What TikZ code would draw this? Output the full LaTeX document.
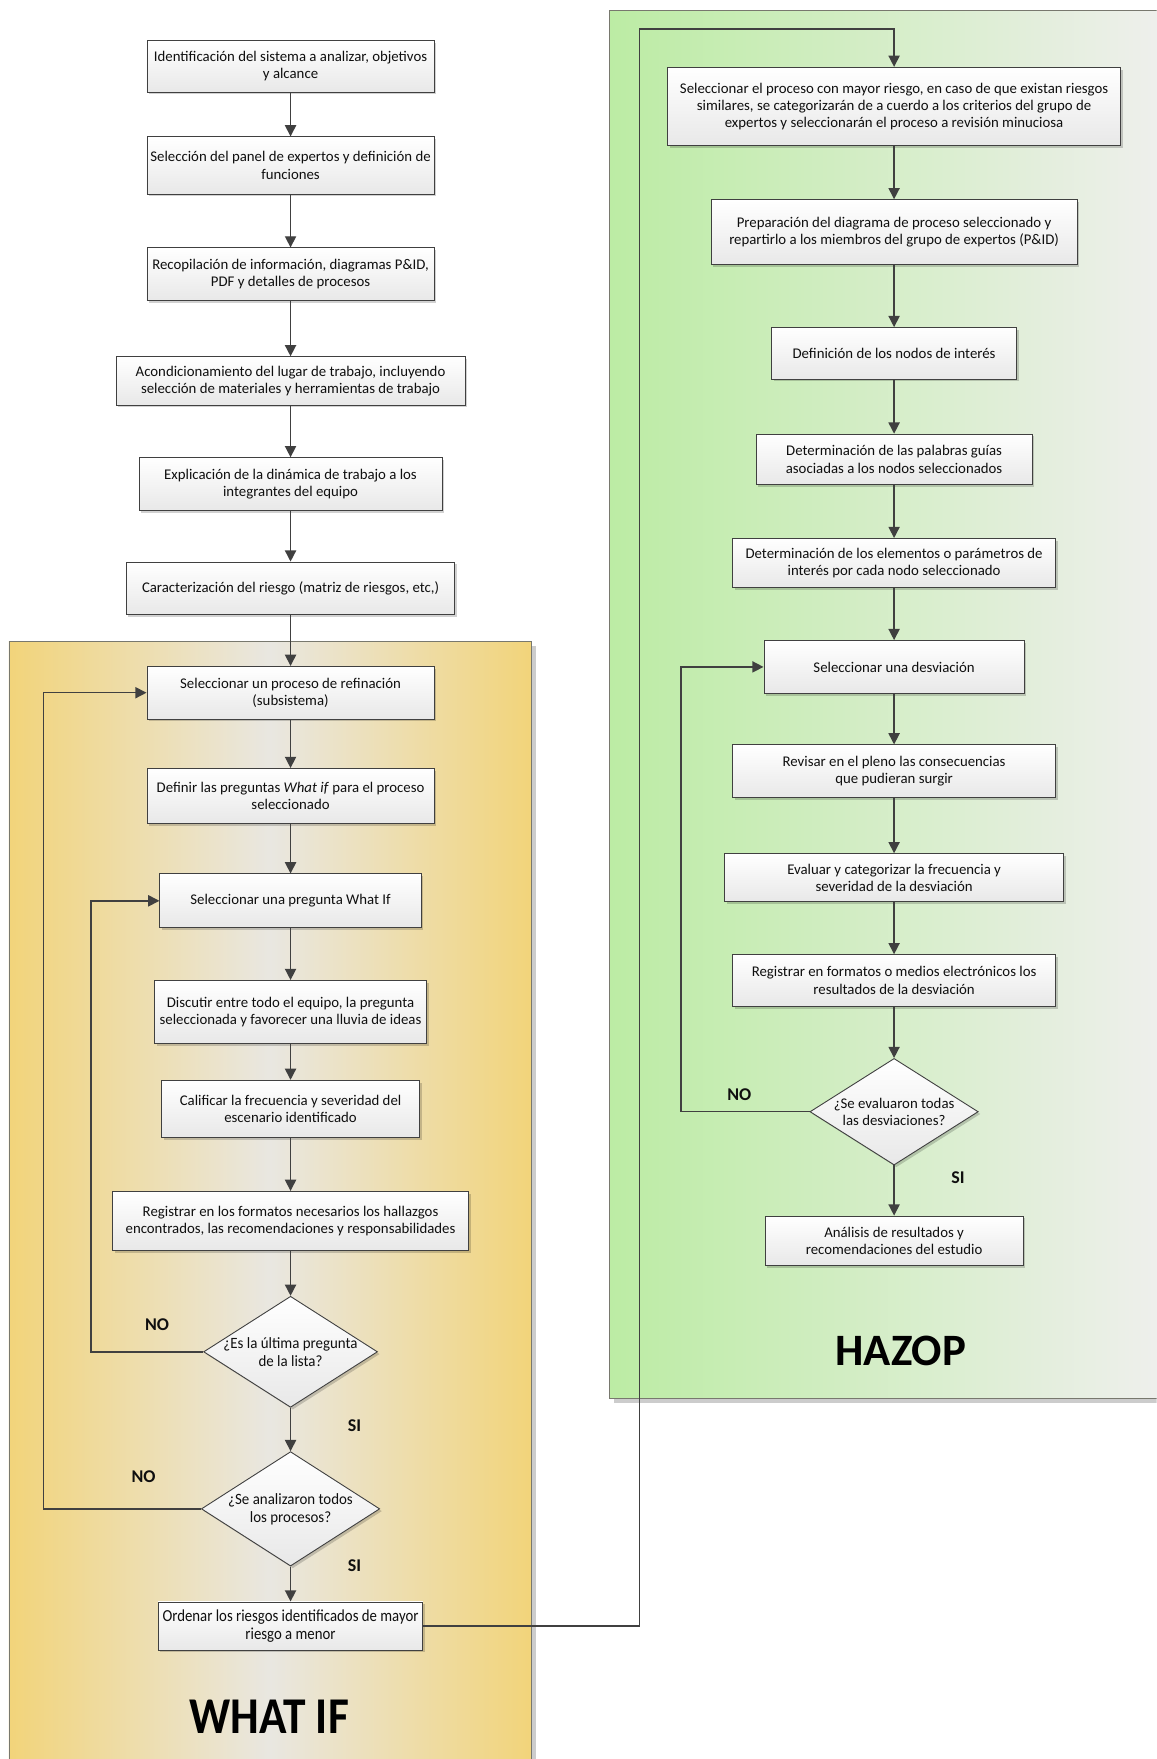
\documentclass[tikz,border=0pt]{standalone}
\usepackage{fontspec}
\setmainfont{Carlito}
\usetikzlibrary{arrows.meta,shapes.geometric,shadows}

\definecolor{lineC}{RGB}{64,64,64}
\definecolor{txtC}{RGB}{15,15,15}
\definecolor{wiEdge}{RGB}{242,212,122}
\definecolor{wiMid}{RGB}{233,231,225}
\definecolor{hzLeft}{RGB}{188,236,164}
\definecolor{hzRight}{RGB}{239,239,237}
\definecolor{panelLine}{RGB}{120,120,110}

\tikzset{
  stepbox/.style={draw=lineC, line width=0.8pt, rectangle, inner sep=0pt,
    top color=white, bottom color=black!9, text=txtC, align=center,
    font=\fontsize{13.2}{15.5}\selectfont,
    drop shadow={shadow xshift=2pt, shadow yshift=-2pt, fill=black, opacity=0.18}},
  decision/.style={draw=lineC, line width=0.8pt, diamond, inner sep=0pt,
    top color=white, bottom color=black!9,
    drop shadow={shadow xshift=2pt, shadow yshift=-2pt, fill=black, opacity=0.18}},
  dtext/.style={text=txtC, align=center, font=\fontsize{13.2}{15.5}\selectfont},
  narrowtext/.style={text=txtC, align=center, font=\fontsize{14}{16}\selectfont},
  arr/.style={draw=lineC, line width=1.3pt, -{Triangle[length=10pt,width=10pt]}},
  yesno/.style={text=txtC, font=\fontsize{16}{18}\selectfont\bfseries},
  title/.style={text=black, font=\fontsize{40}{44}\selectfont\bfseries},
  panel/.style={draw=panelLine, line width=0.8pt},
}

\begin{document}
\begin{tikzpicture}[x=1pt, y=-1pt]
\useasboundingbox (0,0) rectangle (1031,1568);
\clip (0,0) rectangle (1031,1568);
\fill[white] (0,0) rectangle (1031,1568);

% background panels
\fill[black!20] (547,13) rectangle (1040,1251);
\path[panel, left color=hzLeft, right color=hzRight] (543,9) rectangle (1040,1247);
\fill[black!20] (12,576) rectangle (478,1580);
\path[panel, left color=wiEdge, right color=wiEdge, middle color=wiMid] (8,572) rectangle (474,1580);

\node[title] (hazop) at (803,1204) {HAZOP};
\node[title, font=\fontsize{46}{50}\selectfont\bfseries] (whatif) at (240,1530) {\scalebox{0.88}[1]{WHAT IF}};

% left column: preparation and What If
\node[stepbox, minimum width=256pt, minimum height=46pt] (b1) at (259,59) {Identificación del sistema a analizar, objetivos\\y alcance};
\node[stepbox, minimum width=256pt, minimum height=51pt] (b2) at (259,147.5) {Selección del panel de expertos y definición de\\funciones};
\node[stepbox, minimum width=256pt, minimum height=47pt] (b3) at (259,244.5) {Recopilación de información, diagramas P\&ID,\\PDF y detalles de procesos};
\node[stepbox, minimum width=311pt, minimum height=43pt] (b4) at (259,339.5) {Acondicionamiento del lugar de trabajo, incluyendo\\selección de materiales y herramientas de trabajo};
\node[stepbox, minimum width=270pt, minimum height=47pt] (b5) at (259,431.5) {Explicación de la dinámica de trabajo a los\\integrantes del equipo};
\node[stepbox, minimum width=293pt, minimum height=47pt] (b6) at (259,524.5) {Caracterización del riesgo (matriz de riesgos, etc,)};
\node[stepbox, minimum width=256pt, minimum height=47pt] (b7) at (259,617.5) {Seleccionar un proceso de refinación\\(subsistema)};
\node[stepbox, minimum width=256pt, minimum height=49pt] (b8) at (259,709.5) {Definir las preguntas \textit{What if} para el proceso\\seleccionado};
\node[stepbox, minimum width=233pt, minimum height=48pt] (b9) at (259,803) {Seleccionar una pregunta What If};
\node[stepbox, minimum width=242pt, minimum height=56pt] (b10) at (259,902) {Discutir entre todo el equipo, la pregunta\\seleccionada y favorecer una lluvia de ideas};
\node[stepbox, minimum width=230pt, minimum height=51pt] (b11) at (259,988.5) {Calificar la frecuencia y severidad del\\escenario identificado};
\node[stepbox, minimum width=317pt, minimum height=53pt] (b12) at (259,1088.5) {Registrar en los formatos necesarios los hallazgos\\encontrados, las recomendaciones y responsabilidades};
\node[decision, minimum width=155pt, minimum height=99pt] (d1) at (259,1205) {};
\node[narrowtext] (d1t) at (d1) {\scalebox{0.95}[1]{¿Es la última pregunta}\\\scalebox{0.95}[1]{de la lista?}};
\node[decision, minimum width=159pt, minimum height=102pt] (d2) at (259,1345) {};
\node[narrowtext] (d2t) at (d2) {\scalebox{0.95}[1]{¿Se analizaron todos}\\\scalebox{0.95}[1]{los procesos?}};
\node[stepbox, minimum width=236pt, minimum height=43pt, font=\fontsize{15}{16.5}\selectfont] (b15) at (259,1449.5) {\scalebox{0.88}[1]{Ordenar los riesgos identificados de mayor}\\\scalebox{0.88}[1]{riesgo a menor}};

% right column: HAZOP
\node[stepbox, minimum width=404pt, minimum height=70pt] (h1) at (797,95) {Seleccionar el proceso con mayor riesgo, en caso de que existan riesgos\\similares, se categorizarán de a cuerdo a los criterios del grupo de\\expertos y seleccionarán el proceso a revisión minuciosa};
\node[stepbox, minimum width=326pt, minimum height=58pt] (h2) at (797,207) {Preparación del diagrama de proceso seleccionado y\\repartirlo a los miembros del grupo de expertos (P\&ID)};
\node[stepbox, minimum width=218pt, minimum height=46pt] (h3) at (797,315) {Definición de los nodos de interés};
\node[stepbox, minimum width=246pt, minimum height=45pt] (h4) at (797,409.5) {Determinación de las palabras guías\\asociadas a los nodos seleccionados};
\node[stepbox, minimum width=288pt, minimum height=44pt] (h5) at (797,502) {Determinación de los elementos o parámetros de\\interés por cada nodo seleccionado};
\node[stepbox, minimum width=232pt, minimum height=47pt] (h6) at (797,594.5) {Seleccionar una desviación};
\node[stepbox, minimum width=288pt, minimum height=47pt] (h7) at (797,687.5) {Revisar en el pleno las consecuencias\\que pudieran surgir};
\node[stepbox, minimum width=302pt, minimum height=43pt] (h8) at (797,782.5) {Evaluar y categorizar la frecuencia y\\severidad de la desviación};
\node[stepbox, minimum width=288pt, minimum height=46pt] (h9) at (797,874) {Registrar en formatos o medios electrónicos los\\resultados de la desviación};
\node[decision, minimum width=150pt, minimum height=95pt] (hd) at (797,991) {};
\node[dtext] (hdt) at (hd) {¿Se evaluaron todas\\las desviaciones?};
\node[stepbox, minimum width=230pt, minimum height=44pt] (h11) at (797,1106) {Análisis de resultados y\\recomendaciones del estudio};

% main flow, left
\draw[arr] (b1) -- (b2);
\draw[arr] (b2) -- (b3);
\draw[arr] (b3) -- (b4);
\draw[arr] (b4) -- (b5);
\draw[arr] (b5) -- (b6);
\draw[arr] (b6) -- (b7);
\draw[arr] (b7) -- (b8);
\draw[arr] (b8) -- (b9);
\draw[arr] (b9) -- (b10);
\draw[arr] (b10) -- (b11);
\draw[arr] (b11) -- (b12);
\draw[arr] (b12) -- (d1);
\draw[arr] (d1) -- (d2);
\draw[arr] (d2) -- (b15);

% What If loops
\coordinate (loopA) at (81,1205);
\coordinate (loopB) at (39,1345);
\draw[arr] (d1.west) -- (loopA) |- (b9.west);
\draw[arr] (d2.west) -- (loopB) |- (b7.west);
\node[yesno] (noA) at (140,1181) {NO};
\node[yesno] (siA) at (316,1271) {SI};
\node[yesno] (noB) at (128,1316) {NO};
\node[yesno] (siB) at (316,1396) {SI};

% hand-over to HAZOP
\coordinate (linkUp) at (570,26);
\draw[arr] (b15.east) -| (linkUp) -| (h1.north);

% main flow, right
\draw[arr] (h1) -- (h2);
\draw[arr] (h2) -- (h3);
\draw[arr] (h3) -- (h4);
\draw[arr] (h4) -- (h5);
\draw[arr] (h5) -- (h6);
\draw[arr] (h6) -- (h7);
\draw[arr] (h7) -- (h8);
\draw[arr] (h8) -- (h9);
\draw[arr] (h9) -- (hd);
\draw[arr] (hd) -- (h11);

% HAZOP loop
\coordinate (loopC) at (607,991);
\draw[arr] (hd.west) -- (loopC) |- (h6.west);
\node[yesno] (noC) at (659,976) {NO};
\node[yesno] (siC) at (854,1050) {SI};
\end{tikzpicture}
\end{document}
